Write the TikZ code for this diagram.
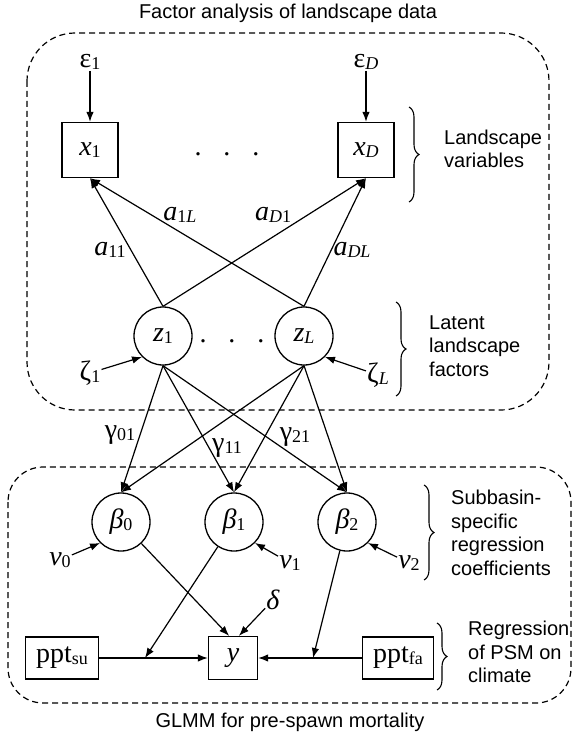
\documentclass[tikz,border=0pt]{standalone}
\usepackage{fontspec}
\setmainfont{Liberation Sans}
\newfontfamily\tnr{Liberation Serif}
\usetikzlibrary{arrows.meta,decorations.pathreplacing}

\newcommand{\sbs}[1]{\raisebox{-2pt}{\fontsize{18}{18}\selectfont #1}}

\begin{document}
\begin{tikzpicture}[x=1pt, y=-1pt,
    every node/.style={font=\fontsize{20}{23.5}\selectfont},
    sym/.style={font=\tnr\fontsize{28}{30}\selectfont, inner sep=1pt},
    var/.style={sym, draw, line width=1.3pt, rectangle, minimum width=56pt, minimum height=55pt},
    lat/.style={sym, draw, line width=1.3pt, circle, minimum size=58pt, inner sep=0pt},
    arr/.style={-{Latex[length=10pt,width=7.5pt]}, line width=1.2pt},
    grp/.style={draw, dash pattern=on 6pt off 4pt, line width=1.2pt},
    brc/.style={draw, line width=1.1pt, decorate, decoration={brace, amplitude=10pt}},
    txt/.style={align=left, anchor=west, inner sep=0pt}
 ]
\useasboundingbox (0,0) rectangle (572,738);

% the two groups
\draw[grp, rounded corners=48pt] (27,33) rectangle (549,410);
\draw[grp, rounded corners=35pt] (8,467) rectangle (571,703);
\node (title) at (288,13) {Factor analysis of landscape data};
\node (bottom) at (290,722) {GLMM for pre-spawn mortality};

% landscape variables
\node[sym] (e1) at (90,62) {ε\sbs{1}};
\node[sym] (eD) at (366,62) {ε\sbs{\itshape D}};
\node[var] (x1) at (90,150) {\textit{x}\sbs{1}};
\node[var] (xD) at (366,150) {\textit{x}\sbs{\itshape D}};
\node[sym] (dtop) at (227,154) {.\hspace{22pt}.\hspace{22pt}.};

% latent factors
\node[lat] (z1) at (163,336) {\textit{z}\sbs{1}};
\node[lat] (zL) at (304,336) {\textit{z}\sbs{\itshape L}};
\node[sym] (dmid) at (232,341) {.\hspace{22pt}.\hspace{22pt}.};
\node[sym] (zeta1) at (90,373) {ζ\sbs{1}};
\node[sym] (zetaL) at (378,375) {ζ\sbs{\itshape L}};

% coefficients
\node[lat] (b0) at (121,522) {\textit{β}\sbs{0}};
\node[lat] (b1) at (234,522) {\textit{β}\sbs{1}};
\node[lat] (b2) at (347,522) {\textit{β}\sbs{2}};
\node[sym] (v0) at (60,560) {\textit{v}\sbs{0}};
\node[sym] (v1) at (290,563) {\textit{v}\sbs{1}};
\node[sym] (v2) at (409,563) {\textit{v}\sbs{2}};

% regression
\node[sym] (delta) at (273,600) {\textit{δ}};
\node[var, minimum width=49pt, minimum height=43pt] (y) at (233,658) {\textit{y}};
\node[var, minimum width=73pt, minimum height=42pt] (psu) at (62,658) {ppt\sbs{su}};
\node[var, minimum width=71pt, minimum height=42pt] (pfa) at (398,658) {ppt\sbs{fa}};
\coordinate (m1) at (145,658);
\coordinate (m2) at (313,658);

% loadings
\node[sym] (a11) at (110,250) {\textit{a}\sbs{11}};
\node[sym] (a1L) at (180,215) {\textit{a}\sbs{1\itshape L}};
\node[sym] (aD1) at (273,215) {\textit{a}\sbs{\itshape D\upshape 1}};
\node[sym] (aDL) at (352,250) {\textit{a}\sbs{\itshape DL}};
\node[sym] (g01) at (120,435) {γ\sbs{01}};
\node[sym] (g11) at (227,448) {γ\sbs{11}};
\node[sym] (g21) at (295,437) {γ\sbs{21}};

% connectors
\draw[arr] (e1) -- (x1);
\draw[arr] (eD) -- (xD);
\foreach \s in {z1,zL}
  \foreach \t in {x1,xD}
    \draw[arr] (\s.north) -- (\t.south);
\draw[arr] (zeta1) -- (z1.south west);
\draw[arr] (zetaL) -- (zL.south east);
\foreach \s in {z1,zL}
  \foreach \t in {b0,b1,b2}
    \draw[arr] (\s.south) -- (\t.north);
\draw[arr] (v0) -- (b0.south west);
\draw[arr] (v1) -- (b1.south east);
\draw[arr] (v2) -- (b2.south east);
\draw[arr] (delta) -- (y.75);
\draw[arr] (b0) -- (y.100);
\draw[arr] (b1) -- (m1);
\draw[arr] (b2) -- (m2);
\draw[arr] (psu) -- (y);
\draw[arr] (pfa) -- (y);

% braces
\draw[brc] (409,107) -- (409,202);
\draw[brc] (396,302) -- (396,396);
\draw[brc] (424,485) -- (424,580);
\draw[brc] (437,623) -- (437,690);
\node[txt] (lv) at (444,149) {Landscape\\variables};
\node[txt] (lf) at (429,346) {Latent\\landscape\\factors};
\node[txt] (sc) at (451,533) {Subbasin-\\specific\\regression\\coefficients};
\node[txt] (rc) at (468,652) {Regression\\of PSM on\\climate};
\end{tikzpicture}
\end{document}
